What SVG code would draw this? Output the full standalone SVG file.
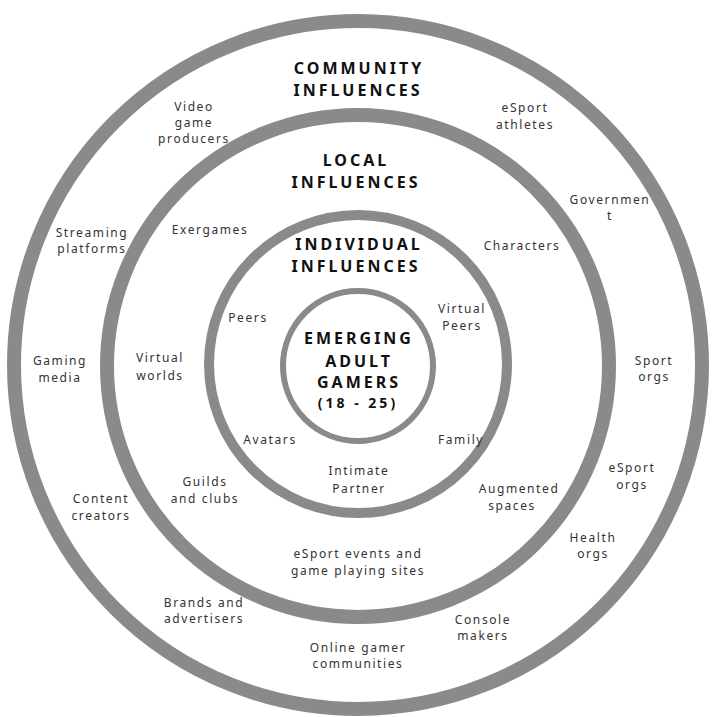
<svg xmlns="http://www.w3.org/2000/svg" width="716" height="717" viewBox="0 0 716 717">
<style>
.ring{fill:none;stroke:#8a8a8a}
.h{font-family:"Noto Sans",sans-serif;font-weight:bold;font-size:16px;letter-spacing:3px;fill:#111;text-anchor:middle}
.l{font-family:"Noto Sans",sans-serif;font-size:12px;letter-spacing:1.6px;fill:#333;text-anchor:middle}
</style>
<rect width="716" height="717" fill="#fff"/>
<g id="community"><circle class="ring" cx="358" cy="365" r="344" stroke-width="14"/></g>
<g id="local"><circle class="ring" cx="358" cy="366" r="251" stroke-width="14"/></g>
<g id="individual"><circle class="ring" cx="358" cy="364" r="149" stroke-width="10"/></g>
<g id="center"><circle class="ring" cx="358" cy="366" r="75" stroke-width="6"/>
<text class="h" x="359" y="344">EMERGING</text><text class="h" x="359" y="367">ADULT</text><text class="h" x="359" y="388">GAMERS</text><text class="h" x="358" y="408" style="font-size:14px">(18 - 25)</text></g>
<g id="connectors"/>
<g id="labels">
<text class="h" x="359" y="74">COMMUNITY</text><text class="h" x="358" y="96">INFLUENCES</text>
<text class="h" x="356" y="166">LOCAL</text><text class="h" x="356" y="188">INFLUENCES</text>
<text class="h" x="359" y="250">INDIVIDUAL</text><text class="h" x="356" y="272">INFLUENCES</text>
<text class="l" x="194" y="111">Video</text><text class="l" x="194" y="127">game</text><text class="l" x="194" y="143">producers</text>
<text class="l" x="525" y="112">eSport</text><text class="l" x="525" y="129">athletes</text>
<text class="l" x="610" y="204">Governmen</text><text class="l" x="610" y="220">t</text>
<text class="l" x="92" y="237">Streaming</text><text class="l" x="92" y="253">platforms</text>
<text class="l" x="210" y="234">Exergames</text>
<text class="l" x="522" y="250">Characters</text>
<text class="l" x="248" y="322">Peers</text>
<text class="l" x="462" y="313">Virtual</text><text class="l" x="462" y="330">Peers</text>
<text class="l" x="60" y="365">Gaming</text><text class="l" x="60" y="382">media</text>
<text class="l" x="160" y="362">Virtual</text><text class="l" x="160" y="380">worlds</text>
<text class="l" x="654" y="365">Sport</text><text class="l" x="654" y="381">orgs</text>
<text class="l" x="270" y="444">Avatars</text>
<text class="l" x="461" y="444">Family</text>
<text class="l" x="359" y="475">Intimate</text><text class="l" x="359" y="493">Partner</text>
<text class="l" x="632" y="472">eSport</text><text class="l" x="632" y="489">orgs</text>
<text class="l" x="205" y="486">Guilds</text><text class="l" x="205" y="503">and clubs</text>
<text class="l" x="519" y="493">Augmented</text><text class="l" x="512" y="510">spaces</text>
<text class="l" x="101" y="503">Content</text><text class="l" x="101" y="520">creators</text>
<text class="l" x="593" y="542">Health</text><text class="l" x="593" y="558">orgs</text>
<text class="l" x="358" y="558">eSport events and</text><text class="l" x="358" y="575">game playing sites</text>
<text class="l" x="204" y="607">Brands and</text><text class="l" x="204" y="623">advertisers</text>
<text class="l" x="483" y="624">Console</text><text class="l" x="483" y="640">makers</text>
<text class="l" x="358" y="652">Online gamer</text><text class="l" x="358" y="668">communities</text>
</g>
</svg>
